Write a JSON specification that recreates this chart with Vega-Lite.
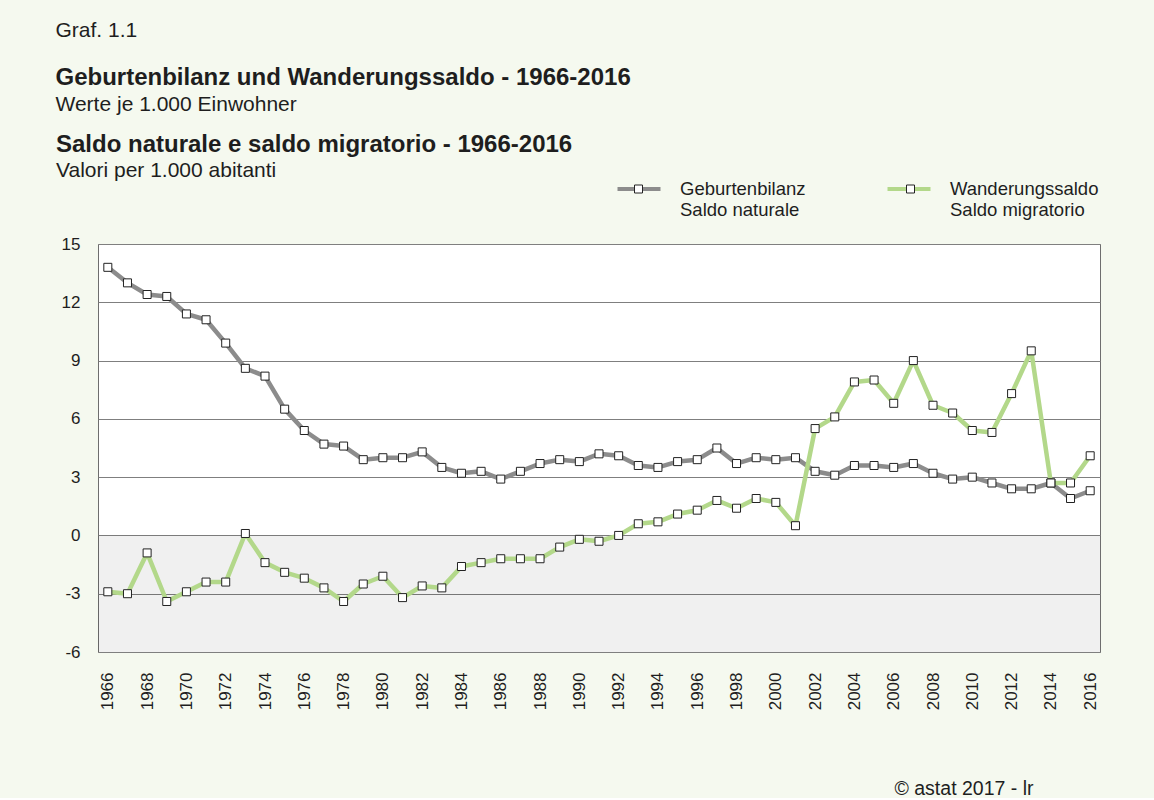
{
  "$schema": "https://vega.github.io/schema/vega-lite/v6.json",
  "background": "#f5f9ef",
  "padding": {"top": 19, "left": 55, "right": 55, "bottom": 0},
  "config": {
    "font": "Liberation Sans",
    "view": {"stroke": null},
    "title": {"anchor": "start", "color": "#1e1e1e", "subtitleColor": "#1e1e1e", "subtitleFont": "Liberation Sans"}
  },
  "datasets": {
    "saldo": [
      {"year": 1966, "series": "Geburtenbilanz / Saldo naturale", "value": 13.8},
      {"year": 1967, "series": "Geburtenbilanz / Saldo naturale", "value": 13.0},
      {"year": 1968, "series": "Geburtenbilanz / Saldo naturale", "value": 12.4},
      {"year": 1969, "series": "Geburtenbilanz / Saldo naturale", "value": 12.3},
      {"year": 1970, "series": "Geburtenbilanz / Saldo naturale", "value": 11.4},
      {"year": 1971, "series": "Geburtenbilanz / Saldo naturale", "value": 11.1},
      {"year": 1972, "series": "Geburtenbilanz / Saldo naturale", "value": 9.9},
      {"year": 1973, "series": "Geburtenbilanz / Saldo naturale", "value": 8.6},
      {"year": 1974, "series": "Geburtenbilanz / Saldo naturale", "value": 8.2},
      {"year": 1975, "series": "Geburtenbilanz / Saldo naturale", "value": 6.5},
      {"year": 1976, "series": "Geburtenbilanz / Saldo naturale", "value": 5.4},
      {"year": 1977, "series": "Geburtenbilanz / Saldo naturale", "value": 4.7},
      {"year": 1978, "series": "Geburtenbilanz / Saldo naturale", "value": 4.6},
      {"year": 1979, "series": "Geburtenbilanz / Saldo naturale", "value": 3.9},
      {"year": 1980, "series": "Geburtenbilanz / Saldo naturale", "value": 4.0},
      {"year": 1981, "series": "Geburtenbilanz / Saldo naturale", "value": 4.0},
      {"year": 1982, "series": "Geburtenbilanz / Saldo naturale", "value": 4.3},
      {"year": 1983, "series": "Geburtenbilanz / Saldo naturale", "value": 3.5},
      {"year": 1984, "series": "Geburtenbilanz / Saldo naturale", "value": 3.2},
      {"year": 1985, "series": "Geburtenbilanz / Saldo naturale", "value": 3.3},
      {"year": 1986, "series": "Geburtenbilanz / Saldo naturale", "value": 2.9},
      {"year": 1987, "series": "Geburtenbilanz / Saldo naturale", "value": 3.3},
      {"year": 1988, "series": "Geburtenbilanz / Saldo naturale", "value": 3.7},
      {"year": 1989, "series": "Geburtenbilanz / Saldo naturale", "value": 3.9},
      {"year": 1990, "series": "Geburtenbilanz / Saldo naturale", "value": 3.8},
      {"year": 1991, "series": "Geburtenbilanz / Saldo naturale", "value": 4.2},
      {"year": 1992, "series": "Geburtenbilanz / Saldo naturale", "value": 4.1},
      {"year": 1993, "series": "Geburtenbilanz / Saldo naturale", "value": 3.6},
      {"year": 1994, "series": "Geburtenbilanz / Saldo naturale", "value": 3.5},
      {"year": 1995, "series": "Geburtenbilanz / Saldo naturale", "value": 3.8},
      {"year": 1996, "series": "Geburtenbilanz / Saldo naturale", "value": 3.9},
      {"year": 1997, "series": "Geburtenbilanz / Saldo naturale", "value": 4.5},
      {"year": 1998, "series": "Geburtenbilanz / Saldo naturale", "value": 3.7},
      {"year": 1999, "series": "Geburtenbilanz / Saldo naturale", "value": 4.0},
      {"year": 2000, "series": "Geburtenbilanz / Saldo naturale", "value": 3.9},
      {"year": 2001, "series": "Geburtenbilanz / Saldo naturale", "value": 4.0},
      {"year": 2002, "series": "Geburtenbilanz / Saldo naturale", "value": 3.3},
      {"year": 2003, "series": "Geburtenbilanz / Saldo naturale", "value": 3.1},
      {"year": 2004, "series": "Geburtenbilanz / Saldo naturale", "value": 3.6},
      {"year": 2005, "series": "Geburtenbilanz / Saldo naturale", "value": 3.6},
      {"year": 2006, "series": "Geburtenbilanz / Saldo naturale", "value": 3.5},
      {"year": 2007, "series": "Geburtenbilanz / Saldo naturale", "value": 3.7},
      {"year": 2008, "series": "Geburtenbilanz / Saldo naturale", "value": 3.2},
      {"year": 2009, "series": "Geburtenbilanz / Saldo naturale", "value": 2.9},
      {"year": 2010, "series": "Geburtenbilanz / Saldo naturale", "value": 3.0},
      {"year": 2011, "series": "Geburtenbilanz / Saldo naturale", "value": 2.7},
      {"year": 2012, "series": "Geburtenbilanz / Saldo naturale", "value": 2.4},
      {"year": 2013, "series": "Geburtenbilanz / Saldo naturale", "value": 2.4},
      {"year": 2014, "series": "Geburtenbilanz / Saldo naturale", "value": 2.7},
      {"year": 2015, "series": "Geburtenbilanz / Saldo naturale", "value": 1.9},
      {"year": 2016, "series": "Geburtenbilanz / Saldo naturale", "value": 2.3},
      {"year": 1966, "series": "Wanderungssaldo / Saldo migratorio", "value": -2.9},
      {"year": 1967, "series": "Wanderungssaldo / Saldo migratorio", "value": -3.0},
      {"year": 1968, "series": "Wanderungssaldo / Saldo migratorio", "value": -0.9},
      {"year": 1969, "series": "Wanderungssaldo / Saldo migratorio", "value": -3.4},
      {"year": 1970, "series": "Wanderungssaldo / Saldo migratorio", "value": -2.9},
      {"year": 1971, "series": "Wanderungssaldo / Saldo migratorio", "value": -2.4},
      {"year": 1972, "series": "Wanderungssaldo / Saldo migratorio", "value": -2.4},
      {"year": 1973, "series": "Wanderungssaldo / Saldo migratorio", "value": 0.1},
      {"year": 1974, "series": "Wanderungssaldo / Saldo migratorio", "value": -1.4},
      {"year": 1975, "series": "Wanderungssaldo / Saldo migratorio", "value": -1.9},
      {"year": 1976, "series": "Wanderungssaldo / Saldo migratorio", "value": -2.2},
      {"year": 1977, "series": "Wanderungssaldo / Saldo migratorio", "value": -2.7},
      {"year": 1978, "series": "Wanderungssaldo / Saldo migratorio", "value": -3.4},
      {"year": 1979, "series": "Wanderungssaldo / Saldo migratorio", "value": -2.5},
      {"year": 1980, "series": "Wanderungssaldo / Saldo migratorio", "value": -2.1},
      {"year": 1981, "series": "Wanderungssaldo / Saldo migratorio", "value": -3.2},
      {"year": 1982, "series": "Wanderungssaldo / Saldo migratorio", "value": -2.6},
      {"year": 1983, "series": "Wanderungssaldo / Saldo migratorio", "value": -2.7},
      {"year": 1984, "series": "Wanderungssaldo / Saldo migratorio", "value": -1.6},
      {"year": 1985, "series": "Wanderungssaldo / Saldo migratorio", "value": -1.4},
      {"year": 1986, "series": "Wanderungssaldo / Saldo migratorio", "value": -1.2},
      {"year": 1987, "series": "Wanderungssaldo / Saldo migratorio", "value": -1.2},
      {"year": 1988, "series": "Wanderungssaldo / Saldo migratorio", "value": -1.2},
      {"year": 1989, "series": "Wanderungssaldo / Saldo migratorio", "value": -0.6},
      {"year": 1990, "series": "Wanderungssaldo / Saldo migratorio", "value": -0.2},
      {"year": 1991, "series": "Wanderungssaldo / Saldo migratorio", "value": -0.3},
      {"year": 1992, "series": "Wanderungssaldo / Saldo migratorio", "value": 0.0},
      {"year": 1993, "series": "Wanderungssaldo / Saldo migratorio", "value": 0.6},
      {"year": 1994, "series": "Wanderungssaldo / Saldo migratorio", "value": 0.7},
      {"year": 1995, "series": "Wanderungssaldo / Saldo migratorio", "value": 1.1},
      {"year": 1996, "series": "Wanderungssaldo / Saldo migratorio", "value": 1.3},
      {"year": 1997, "series": "Wanderungssaldo / Saldo migratorio", "value": 1.8},
      {"year": 1998, "series": "Wanderungssaldo / Saldo migratorio", "value": 1.4},
      {"year": 1999, "series": "Wanderungssaldo / Saldo migratorio", "value": 1.9},
      {"year": 2000, "series": "Wanderungssaldo / Saldo migratorio", "value": 1.7},
      {"year": 2001, "series": "Wanderungssaldo / Saldo migratorio", "value": 0.5},
      {"year": 2002, "series": "Wanderungssaldo / Saldo migratorio", "value": 5.5},
      {"year": 2003, "series": "Wanderungssaldo / Saldo migratorio", "value": 6.1},
      {"year": 2004, "series": "Wanderungssaldo / Saldo migratorio", "value": 7.9},
      {"year": 2005, "series": "Wanderungssaldo / Saldo migratorio", "value": 8.0},
      {"year": 2006, "series": "Wanderungssaldo / Saldo migratorio", "value": 6.8},
      {"year": 2007, "series": "Wanderungssaldo / Saldo migratorio", "value": 9.0},
      {"year": 2008, "series": "Wanderungssaldo / Saldo migratorio", "value": 6.7},
      {"year": 2009, "series": "Wanderungssaldo / Saldo migratorio", "value": 6.3},
      {"year": 2010, "series": "Wanderungssaldo / Saldo migratorio", "value": 5.4},
      {"year": 2011, "series": "Wanderungssaldo / Saldo migratorio", "value": 5.3},
      {"year": 2012, "series": "Wanderungssaldo / Saldo migratorio", "value": 7.3},
      {"year": 2013, "series": "Wanderungssaldo / Saldo migratorio", "value": 9.5},
      {"year": 2014, "series": "Wanderungssaldo / Saldo migratorio", "value": 2.7},
      {"year": 2015, "series": "Wanderungssaldo / Saldo migratorio", "value": 2.7},
      {"year": 2016, "series": "Wanderungssaldo / Saldo migratorio", "value": 4.1}
    ],
    "negband": [{"lo": -6, "hi": 0}]
  },
  "title": {"text": "Graf. 1.1", "fontSize": 21, "fontWeight": "normal", "anchor": "start", "offset": 25},
  "vconcat": [
    {
      "title": {
        "text": "Geburtenbilanz und Wanderungssaldo - 1966-2016",
        "subtitle": "Werte je 1.000 Einwohner",
        "fontSize": 24, "fontWeight": "bold", "subtitleFontSize": 21, "subtitlePadding": 4,
        "anchor": "start", "offset": 18
      },
      "resolve": {"scale": {"color": "independent", "shape": "independent"}, "legend": {"color": "independent", "shape": "independent"}},
      "vconcat": [
        {
          "title": {
            "text": "Saldo naturale e saldo migratorio - 1966-2016",
            "subtitle": "Valori per 1.000 abitanti",
            "fontSize": 24, "fontWeight": "bold", "subtitleFontSize": 21, "subtitlePadding": 3,
            "anchor": "start", "offset": -5
          },
          "width": 1002,
          "height": 408,
          "view": {"fill": "white", "stroke": "#6e6e6e", "strokeWidth": 1},
          "encoding": {
            "x": {
              "field": "year", "type": "quantitative",
              "scale": {"domain": [1965.5, 2016.5], "nice": false, "zero": false},
              "axis": {
                "values": [1966,1968,1970,1972,1974,1976,1978,1980,1982,1984,1986,1988,1990,1992,1994,1996,1998,2000,2002,2004,2006,2008,2010,2012,2014,2016],
                "format": "d", "labelAngle": 270, "labelFontSize": 17, "labelColor": "#1e1e1e",
                "labelPadding": 20, "ticks": false, "domain": false, "grid": false,
                "title": "© astat 2017 - lr", "titleFontSize": 19.5, "titleFontWeight": "normal", "titleColor": "#1e1e1e",
                "titleX": 935, "titleY": 142, "titleAlign": "right", "titleBaseline": "alphabetic"
              }
            },
            "y": {
              "field": "value", "type": "quantitative",
              "scale": {"domain": [-6, 15], "nice": false, "zero": false},
              "axis": {
                "values": [-6,-3,0,3,6,9,12,15], "labelExpr": "'' + datum.value", "labelFontSize": 17, "labelColor": "#1e1e1e", "labelPadding": 18,
                "minExtent": 42, "ticks": false, "domain": false, "grid": true, "gridColor": "#7f7f7f", "gridWidth": 1, "gridOpacity": 1,
                "title": null
              }
            }
          },
          "layer": [
            {
              "data": {"name": "negband"},
              "mark": {"type": "rect", "fill": "#000000", "fillOpacity": 0.06},
              "encoding": {
                "x": null,
                "y": {"field": "lo", "type": "quantitative"},
                "y2": {"field": "hi"}
              }
            },
            {
              "data": {"name": "saldo"},
              "mark": {"type": "line", "strokeWidth": 4.5, "strokeJoin": "round"},
              "encoding": {
                "color": {
                  "field": "series", "type": "nominal",
                  "scale": {"domain": ["Geburtenbilanz / Saldo naturale", "Wanderungssaldo / Saldo migratorio"], "range": ["#8c8c8c", "#b3d88a"]},
                  "legend": {
                    "title": null, "orient": "none", "direction": "horizontal", "legendX": 528, "legendY": -68,
                    "symbolType": "M-2,0H2", "symbolSize": 462, "symbolStrokeWidth": 4,
                    "labelExpr": "split(datum.label, ' / ')", "labelFontSize": 18.5, "labelLineHeight": 19.5,
                    "labelColor": "#1e1e1e", "labelOffset": 28, "labelLimit": 300, "columnPadding": 73,
                    "padding": 0, "zindex": 1
                  }
                }
              }
            },
            {
              "data": {"name": "saldo"},
              "mark": {"type": "point", "shape": "square", "filled": false, "fill": "white", "fillOpacity": 1, "stroke": "#222222", "strokeWidth": 1, "size": 64, "opacity": 1},
              "encoding": {
                "shape": {
                  "field": "series", "type": "nominal",
                  "scale": {"range": ["square", "square"]},
                  "legend": {
                    "title": null, "orient": "none", "direction": "horizontal", "legendX": 531.5, "legendY": -64,
                    "symbolType": "square", "symbolSize": 64, "symbolFillColor": "white", "symbolStrokeWidth": 1, "symbolOpacity": 1,
                    "labelExpr": "''", "labelFontSize": 18, "labelOffset": 0, "columnPadding": 254,
                    "padding": 0, "zindex": 2
                  }
                }
              }
            }
          ]
        }
      ]
    }
  ]
}
